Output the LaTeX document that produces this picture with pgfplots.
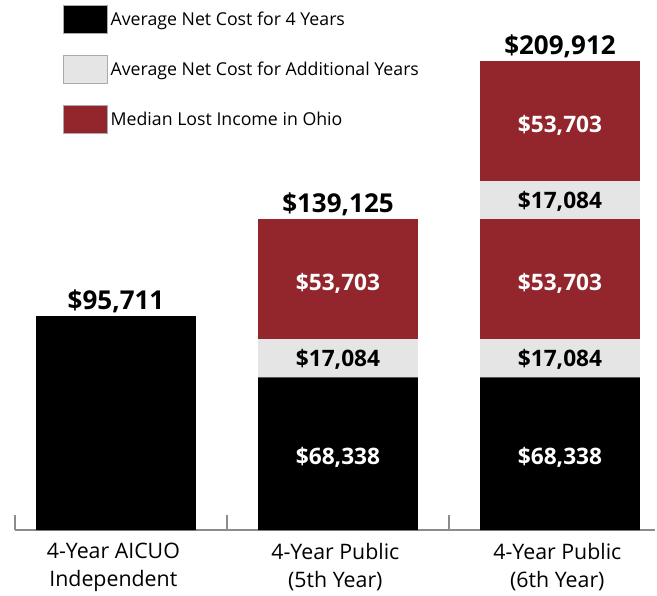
\documentclass[border=0pt]{standalone}
\usepackage{fontspec}
\setmainfont{Open Sans}
\usepackage{pgfplots}
\usepackage{pgfplotstable}
\pgfplotsset{compat=1.18}
\definecolor{ohred}{RGB}{147,38,45}
\definecolor{lgray}{RGB}{229,229,229}
\definecolor{edgegray}{RGB}{170,170,170}
\definecolor{axisgray}{RGB}{140,140,140}

\pgfplotstableread{
x black gray1 red1 gray2 red2
0 95711 0 0 0 0
1 68338 17084 53703 0 0
2 68338 17084 53703 17084 53703
}\costs

\pgfplotstableread{
x base val lab
1 0 68338 {\$68,338}
2 0 68338 {\$68,338}
1 85422 53703 {\$53,703}
2 85422 53703 {\$53,703}
2 156209 53703 {\$53,703}
}\whitelabs

\pgfplotstableread{
x base val lab
1 68338 17084 {\$17,084}
2 68338 17084 {\$17,084}
2 139125 17084 {\$17,084}
}\graylabs

\pgfplotstableread{
x y lab
0 95711 {\$95,711}
1 139125 {\$139,125}
2 209912 {\$209,912}
}\totals

\pgfplotsset{
  geom/.style={scale only axis, width=480pt, height=393.75pt,
    xmin=-0.455, xmax=2.428, ymin=0, ymax=235000, enlargelimits=false},
  swatch/.style={legend image code/.code={\draw[##1, draw=edgegray, line width=0.5pt] (0pt,-10.5pt) rectangle (33pt,10.5pt);}},
}

\begin{document}
\begin{tikzpicture}
\begin{axis}[geom, ybar stacked, bar width=0.72,
  axis y line=none, axis x line*=bottom,
  axis line style={axisgray, line width=0.8pt, -},
  xtick={0,1,2},
  xticklabels={{4-Year AICUO\\Independent},{4-Year Public\\(5th Year)},{4-Year Public\\(6th Year)}},
  xticklabel style={align=center, font=\fontsize{16}{21}\selectfont, text=black, yshift=-6.5pt, xshift=-2pt},
  xtick style={draw=none},
  extra x ticks={-0.455,0.5,1.5},
  extra x tick labels={},
  extra x tick style={xtick style={draw=axisgray, line width=0.8pt}, major tick length=11pt, tick align=inside},
  legend style={at={(rel axis cs:0,1)}, anchor=north west, xshift=36pt, yshift=0pt,
    draw=none, fill=none, inner sep=0pt, row sep=16pt,
    font=\fontsize{13.3}{15}\selectfont, cells={anchor=west}},
  legend cell align=left,
]
\addplot[fill=black, draw=none, swatch] table[x=x,y=black]{\costs};
\addplot[fill=lgray, draw=none, swatch] table[x=x,y=gray1]{\costs};
\addplot[fill=ohred, draw=none, swatch] table[x=x,y=red1]{\costs};
\addplot[fill=lgray, draw=none, forget plot] table[x=x,y=gray2]{\costs};
\addplot[fill=ohred, draw=none, forget plot] table[x=x,y=red2]{\costs};
\legend{Average Net Cost for 4 Years, Average Net Cost for Additional Years, Median Lost Income in Ohio}
\end{axis}
\begin{axis}[geom, hide axis]
\addplot[draw=none, mark=none, nodes near coords, point meta=explicit symbolic,
  nodes near coords style={anchor=center, yshift=-3pt, text=white, font=\bfseries\fontsize{17}{18}\selectfont}]
  table[x=x, y expr=\thisrow{base}+0.5*\thisrow{val}, meta=lab]{\whitelabs};
\addplot[draw=none, mark=none, nodes near coords, point meta=explicit symbolic,
  nodes near coords style={anchor=center, yshift=-1.2pt, text=black, font=\bfseries\fontsize{17}{18}\selectfont}]
  table[x=x, y expr=\thisrow{base}+0.5*\thisrow{val}, meta=lab]{\graylabs};
\addplot[draw=none, mark=none, nodes near coords, point meta=explicit symbolic,
  nodes near coords style={anchor=base, yshift=5pt, text=black, font=\bfseries\fontsize{19.5}{21}\selectfont}]
  table[x=x, y=y, meta=lab]{\totals};
\end{axis}
\pgfresetboundingbox
\path[use as bounding box] ([shift={(-11.25pt,-49.5pt)}]current axis.south west) rectangle ([shift={(1.5pt,3.75pt)}]current axis.north east);
\end{tikzpicture}
\end{document}
